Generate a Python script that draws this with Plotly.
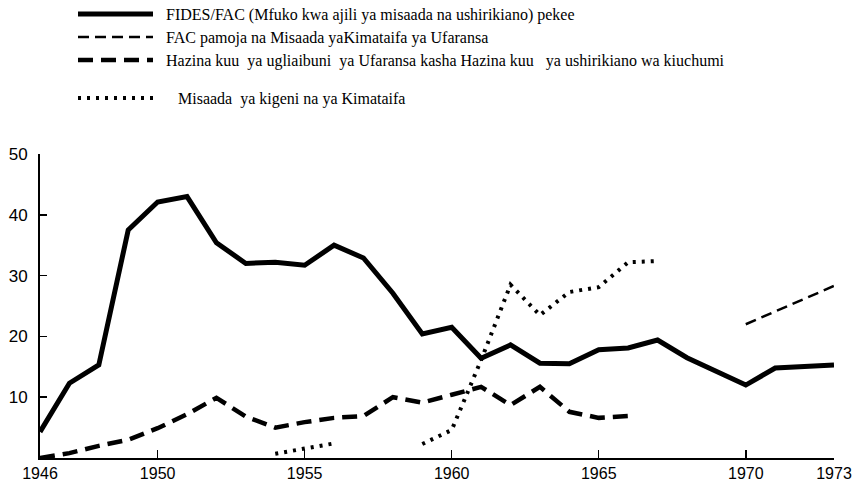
import plotly.graph_objects as go

# ---- data ----
fides_years = list(range(1946, 1974))
fides_vals = [4.3, 12.3, 15.3, 37.5, 42.1, 43.0, 35.4, 32.0, 32.2, 31.7, 35.0, 32.9, 27.1, 20.4,
              21.5, 16.4, 18.6, 15.6, 15.5, 17.8, 18.1, 19.4, 16.5, 14.3, 12.0, 14.8, 15.0, 15.3]

fac_years = [1970, 1973]
fac_vals = [22.0, 28.3]

hazina_years = list(range(1946, 1967))
hazina_vals = [0.0, 0.8, 2.0, 3.0, 4.9, 7.2, 9.9, 6.8, 5.0, 5.9, 6.6, 6.9, 10.0, 9.1,
               10.4, 11.7, 8.7, 11.7, 7.6, 6.6, 6.9]

misaada_years = list(range(1954, 1968))
misaada_vals = [0.7, 1.6, 2.4, None, None, 2.3, 4.6, 16.1, 28.5, 23.5, 27.3, 28.1, 32.2, 32.4]

x_ticks = [1946, 1950, 1955, 1960, 1965, 1970, 1973]
y_ticks = [10, 20, 30, 40, 50]

names = [
    "FIDES/FAC (Mfuko kwa ajili ya misaada na ushirikiano) pekee",
    "FAC pamoja na Misaada yaKimataifa ya Ufaransa",
    "Hazina kuu\u00a0 ya ugliaibuni\u00a0 ya Ufaransa kasha Hazina kuu\u00a0\u00a0 ya ushirikiano wa kiuchumi",
    "Misaada\u00a0 ya kigeni na ya Kimataifa",
]

pad = "\u00a0\u00a0"

fig = go.Figure()
fig.add_trace(go.Scatter(x=fides_years, y=fides_vals, mode="lines", name=pad + names[0],
                         line=dict(color="black", width=5), legend="legend"))
fig.add_trace(go.Scatter(x=fac_years, y=fac_vals, mode="lines", name=pad + names[1],
                         line=dict(color="black", width=2.5, dash="11px,6px"), legend="legend2"))
fig.add_trace(go.Scatter(x=hazina_years, y=hazina_vals, mode="lines", name=pad + names[2],
                         line=dict(color="black", width=4.5, dash="15px,8px"), legend="legend3"))
fig.add_trace(go.Scatter(x=misaada_years, y=misaada_vals, mode="lines",
                         name=pad + pad + "\u00a0" + names[3],
                         line=dict(color="black", width=4, dash="3px,6px"), connectgaps=False,
                         legend="legend4"))

legend_common = dict(
    xref="container", yref="container", xanchor="left", yanchor="middle",
    font=dict(family="Liberation Serif", size=16, color="black"),
    itemwidth=75, bgcolor="rgba(0,0,0,0)", borderwidth=0,
)

fig.update_layout(
    width=855, height=485,
    margin=dict(l=40, r=21, t=154, b=27, autoexpand=False),
    paper_bgcolor="white", plot_bgcolor="white",
    showlegend=True,
    legend=dict(x=73 / 855, y=1 - 14 / 485, **legend_common),
    legend2=dict(x=73 / 855, y=1 - 37 / 485, **legend_common),
    legend3=dict(x=73 / 855, y=1 - 60 / 485, **legend_common),
    legend4=dict(x=73 / 855, y=1 - 98 / 485, **legend_common),
    xaxis=dict(range=[1946, 1973], tickvals=x_ticks, ticktext=[str(v) for v in x_ticks],
               showgrid=False, zeroline=False, showline=True, linecolor="black", linewidth=2,
               ticks="inside", ticklen=8, tickwidth=1.5, tickcolor="black",
               tickfont=dict(family="Liberation Sans", size=16, color="black")),
    yaxis=dict(range=[0, 50], tickvals=y_ticks, ticktext=[str(v) for v in y_ticks],
               showgrid=False, zeroline=False, showline=True, linecolor="black", linewidth=2,
               ticks="inside", ticklen=7, tickwidth=1.5, tickcolor="black", ticklabelstandoff=7,
               tickfont=dict(family="Liberation Sans", size=17, color="black")),
)

fig.write_html("out.html", config={"displayModeBar": False, "staticPlot": True},
               post_script="document.body.style.margin='0';document.body.style.overflow='hidden';")
